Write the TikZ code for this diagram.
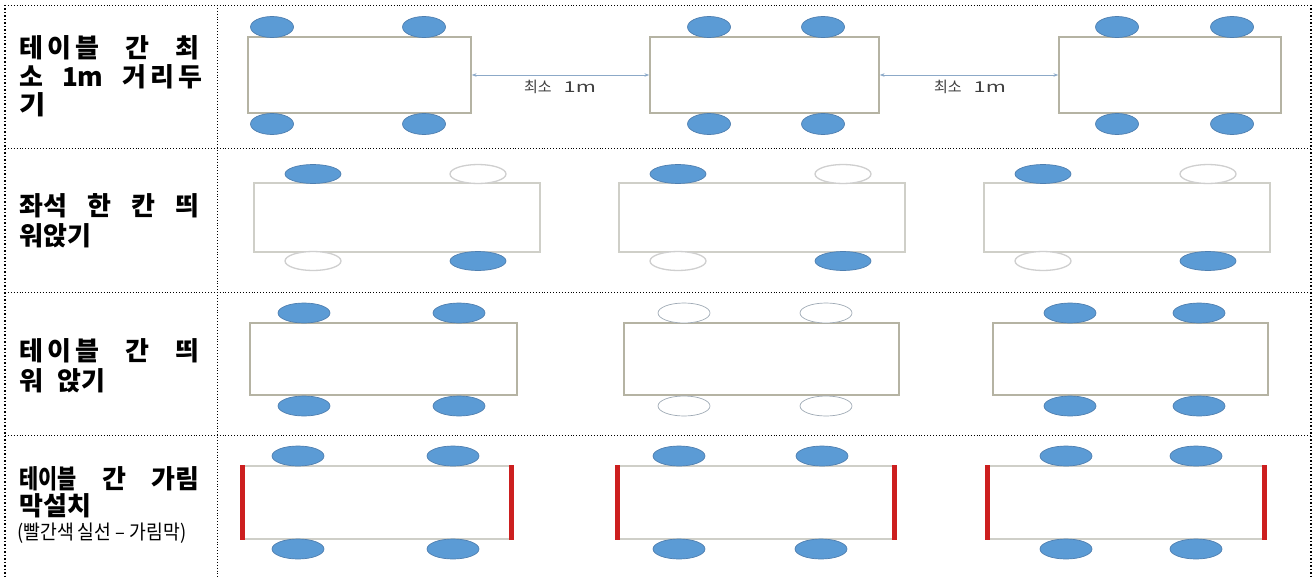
\documentclass[tikz,border=0pt]{standalone}
\usepackage{fontspec}
\usepackage{graphicx}
\setmainfont{Noto Sans CJK KR}
\usetikzlibrary{shapes.geometric,arrows.meta}
\definecolor{chairblue}{HTML}{5B9BD5}
\definecolor{chairedge}{HTML}{4F7FB0}
\definecolor{tableedge}{HTML}{B5B3A3}
\definecolor{tableedgeb}{HTML}{CFCFC8}
\definecolor{emptyedge}{HTML}{CFCFCF}
\definecolor{emptyedgeb}{HTML}{9FAAB5}
\definecolor{screenred}{HTML}{CC1F1F}
\definecolor{arrowc}{HTML}{8CA9C8}
\definecolor{labelgray}{HTML}{3F3F3F}
\newcommand{\lsp}{\hspace{4pt}}
\begin{document}
\begin{tikzpicture}[x=1pt,y=-1pt,
  grid/.style={black, dotted, line width=0.9pt},
  border/.style={black, dotted, line width=1.5pt},
  tablebox/.style={rectangle, draw=tableedge, line width=1.3pt, fill=white, inner sep=0pt},
  tableboxb/.style={tablebox, draw=tableedgeb},
  chairfull/.style={ellipse, draw=chairedge, fill=chairblue, line width=0.7pt, inner sep=0pt},
  chairempty/.style={ellipse, draw=emptyedge, fill=white, line width=1.3pt, inner sep=0pt},
  chairemptyb/.style={ellipse, draw=emptyedgeb, fill=white, line width=0.7pt, inner sep=0pt},
  rowone/.style={minimum width=43pt, minimum height=21pt},
  rowtwo/.style={minimum width=56pt, minimum height=19pt},
  rowthree/.style={minimum width=52pt, minimum height=20pt},
  screen/.style={draw=screenred, line width=4.5pt},
  dimarrow/.style={draw=arrowc, line width=0.8pt, {Stealth[length=5pt,width=3.5pt]}-{Stealth[length=5pt,width=3.5pt]}},
  dimlabel/.style={font=\fontsize{15}{18}\selectfont, text=labelgray, inner sep=0pt},
  lbl/.style={font=\fontsize{26}{30}\selectfont\bfseries, inner sep=0pt, anchor=base west},
  lblsmall/.style={font=\fontsize{20}{22}\selectfont, inner sep=0pt, anchor=base west}
]
\useasboundingbox (0,0) rectangle (1313,578);

% grid
\draw[grid] (5,5) -- (1311,5);
\draw[grid] (5,148) -- (1311,148);
\draw[grid] (5,292) -- (1311,292);
\draw[grid] (5,435) -- (1311,435);
\draw[grid] (217,5) -- (217,578);
\draw[border] (5,5) -- (5,578);
\draw[border] (1311,5) -- (1311,578);

% left labels
\node[lbl] (r1a) at (19,57) {\makebox[180pt]{테\lsp 이\lsp 블\hfill 간\hfill 최}};
\node[lbl] (r1b) at (19,86) {\makebox[183pt]{소\hfill 1m\hfill 거\lsp 리\lsp 두}};
\node[lbl] (r1c) at (19,114.5) {\scalebox{1.1}[1]{기}};
\node[lbl] (r2a) at (19,215) {\makebox[180pt]{좌석\hfill 한\hfill 칸\hfill 띄}};
\node[lbl] (r2b) at (19,245.5) {워앉기};
\node[lbl] (r3a) at (19,360) {\makebox[180pt]{테\lsp 이\lsp 블\hfill 간\hfill 띄}};
\node[lbl] (r3b) at (19,390) {워\hspace{14pt}앉기};
\node[lbl] (r4a) at (19,488.5) {\makebox[180pt]{\scalebox{0.8}[1]{테이블}\hfill 간\hfill 가림}};
\node[lbl] (r4b) at (19,515) {막설치};
\node[lblsmall] (r4c) at (17,539.5) {\resizebox{169pt}{\height}{(빨간색 실선 – 가림막)}};

% ---- row 1 ----
\node[tablebox, minimum width=223pt, minimum height=76pt] (t11) at (359.5,75) {};
\node[tablebox, minimum width=229pt, minimum height=76pt] (t12) at (764.5,75) {};
\node[tablebox, minimum width=222pt, minimum height=76pt] (t13) at (1170,75) {};
\node[chairfull, rowone] (c11a) at (272,27) {};
\node[chairfull, rowone] (c11b) at (424,27) {};
\node[chairfull, rowone] (c11c) at (272,124) {};
\node[chairfull, rowone] (c11d) at (424,124) {};
\node[chairfull, rowone] (c12a) at (709,27) {};
\node[chairfull, rowone] (c12b) at (823,27) {};
\node[chairfull, rowone] (c12c) at (709,124) {};
\node[chairfull, rowone] (c12d) at (823,124) {};
\node[chairfull, rowone] (c13a) at (1117,27) {};
\node[chairfull, rowone] (c13b) at (1232,27) {};
\node[chairfull, rowone] (c13c) at (1117,124) {};
\node[chairfull, rowone] (c13d) at (1232,124) {};
\draw[dimarrow] (t11.east) -- (t12.west);
\draw[dimarrow] (t12.east) -- (t13.west);
\node[dimlabel] (d1) at (560,87) {최소\hspace{12pt}\scalebox{1.45}[1]{1m}};
\node[dimlabel] (d2) at (970,87) {최소\hspace{12pt}\scalebox{1.45}[1]{1m}};

% ---- row 2 ----
\node[tableboxb, minimum width=286pt, minimum height=69pt] (t21) at (397,217.5) {};
\node[tableboxb, minimum width=286pt, minimum height=69pt] (t22) at (762,217.5) {};
\node[tableboxb, minimum width=286pt, minimum height=69pt] (t23) at (1127,217.5) {};
\node[chairfull, rowtwo] (c21a) at (313,174) {};
\node[chairempty, rowtwo] (c21b) at (478,174) {};
\node[chairempty, rowtwo] (c21c) at (313,261) {};
\node[chairfull, rowtwo] (c21d) at (478,261) {};
\node[chairfull, rowtwo] (c22a) at (678,174) {};
\node[chairempty, rowtwo] (c22b) at (843,174) {};
\node[chairempty, rowtwo] (c22c) at (678,261) {};
\node[chairfull, rowtwo] (c22d) at (843,261) {};
\node[chairfull, rowtwo] (c23a) at (1043,174) {};
\node[chairempty, rowtwo] (c23b) at (1208,174) {};
\node[chairempty, rowtwo] (c23c) at (1043,261) {};
\node[chairfull, rowtwo] (c23d) at (1208,261) {};

% ---- row 3 ----
\node[tablebox, minimum width=267pt, minimum height=72pt] (t31) at (383.5,359) {};
\node[tablebox, minimum width=275pt, minimum height=72pt] (t32) at (761.5,359) {};
\node[tablebox, minimum width=275pt, minimum height=72pt] (t33) at (1130.5,359) {};
\node[chairfull, rowthree] (c31a) at (304,313) {};
\node[chairfull, rowthree] (c31b) at (459,313) {};
\node[chairfull, rowthree] (c31c) at (304,406) {};
\node[chairfull, rowthree] (c31d) at (459,406) {};
\node[chairemptyb, rowthree] (c32a) at (684,313) {};
\node[chairemptyb, rowthree] (c32b) at (826,313) {};
\node[chairemptyb, rowthree] (c32c) at (684,406) {};
\node[chairemptyb, rowthree] (c32d) at (826,406) {};
\node[chairfull, rowthree] (c33a) at (1070,313) {};
\node[chairfull, rowthree] (c33b) at (1199,313) {};
\node[chairfull, rowthree] (c33c) at (1070,406) {};
\node[chairfull, rowthree] (c33d) at (1199,406) {};

% ---- row 4 ----
\node[tableboxb, minimum width=268pt, minimum height=73pt] (t41) at (377,502.5) {};
\node[tableboxb, minimum width=276pt, minimum height=73pt] (t42) at (756,502.5) {};
\node[tableboxb, minimum width=276pt, minimum height=73pt] (t43) at (1126,502.5) {};
\draw[screen] (t41.north west) -- (t41.south west);
\draw[screen] (t41.north east) -- (t41.south east);
\draw[screen] (t42.north west) -- (t42.south west);
\draw[screen] (t42.north east) -- (t42.south east);
\draw[screen] (t43.north west) -- (t43.south west);
\draw[screen] (t43.north east) -- (t43.south east);
\node[chairfull, rowthree] (c41a) at (298,456) {};
\node[chairfull, rowthree] (c41b) at (453,456) {};
\node[chairfull, rowthree] (c41c) at (298,549) {};
\node[chairfull, rowthree] (c41d) at (453,549) {};
\node[chairfull, rowthree] (c42a) at (679,456) {};
\node[chairfull, rowthree] (c42b) at (822,456) {};
\node[chairfull, rowthree] (c42c) at (679,549) {};
\node[chairfull, rowthree] (c42d) at (821,549) {};
\node[chairfull, rowthree] (c43a) at (1066,456) {};
\node[chairfull, rowthree] (c43b) at (1196,456) {};
\node[chairfull, rowthree] (c43c) at (1066,549) {};
\node[chairfull, rowthree] (c43d) at (1196,549) {};
\end{tikzpicture}
\end{document}
